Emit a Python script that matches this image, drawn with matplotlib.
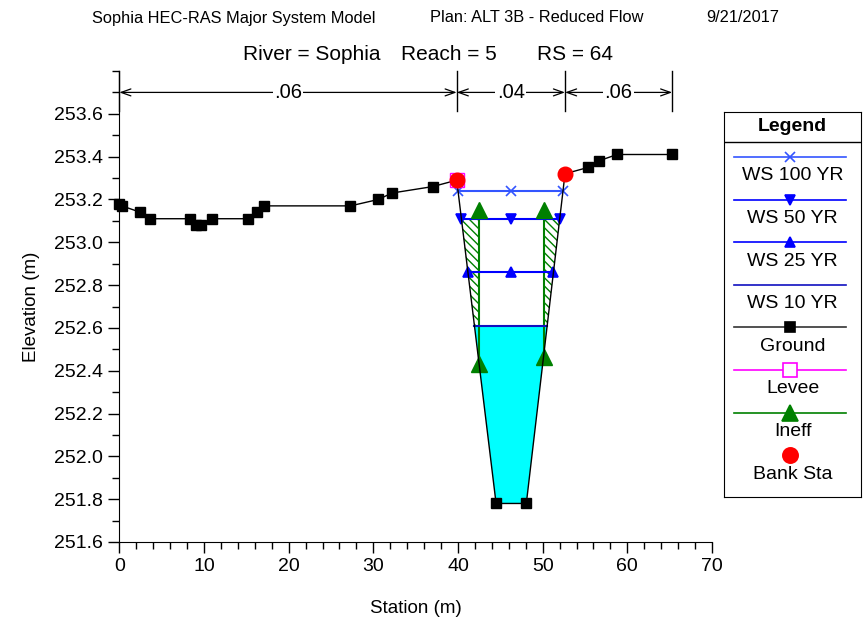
import numpy as np
import matplotlib
matplotlib.use("Agg")
import matplotlib.pyplot as plt

plt.rcParams['font.family'] = ['Liberation Sans', 'DejaVu Sans']

# ground geometry (station, elevation)
sta = [0, 0.3, 2.5, 3.6, 8.4, 9.0, 9.6, 11.0, 15.2, 16.3, 17.1, 27.3, 30.6,
       32.2, 37.0, 39.85, 44.5, 48.07, 52.64, 55.4, 56.6, 58.8, 65.3]
elev = [253.18, 253.17, 253.14, 253.11, 253.11, 253.08, 253.08, 253.11, 253.11,
        253.14, 253.17, 253.17, 253.20, 253.23, 253.26, 253.29, 251.78, 251.78,
        253.32, 253.35, 253.38, 253.41, 253.41]

bank_sta = [39.85, 52.64]
levee_sta = [39.85]

ws_names = ["WS 100 YR", "WS 50 YR", "WS 25 YR", "WS 10 YR"]
ws_elev = [253.24, 253.11, 252.86, 252.61]
ws_markers = ["x", "v", "^", None]

ineff_sta = [42.5, 50.1]
ineff_elev = 253.15

n_breaks = [0, 39.85, 52.64, 65.3]
n_vals = [".06", ".04", ".06"]

sta = np.array(sta)
elev = np.array(elev)
left_i = int(np.argmin(np.abs(sta - bank_sta[0])))
right_i = int(np.argmin(np.abs(sta - bank_sta[1])))
bot = left_i + 1


def crossing(z):
    # where a water level meets the channel banks
    xl = np.interp(z, elev[left_i:bot + 1][::-1], sta[left_i:bot + 1][::-1])
    xr = np.interp(z, elev[bot + 1:right_i + 1], sta[bot + 1:right_i + 1])
    return xl, xr


def ground_at(x):
    return np.interp(x, sta, elev)


fig = plt.figure(figsize=(8.63, 6.24), dpi=100)
ax = fig.add_axes([119.3 / 863, 1 - 542 / 624, (712 - 119.3) / 863, (542 - 71) / 624])

# ineffective areas (hatched between ground, ineff station and WS 50)
z_h = ws_elev[1]
xl, xr = crossing(z_h)
gl = ground_at(ineff_sta[0])
gr = ground_at(ineff_sta[1])
ax.fill([xl, ineff_sta[0], ineff_sta[0]], [z_h, z_h, gl], facecolor='white',
        edgecolor='green', hatch='\\\\\\\\', lw=0, zorder=2)
ax.fill([ineff_sta[1], xr, ineff_sta[1]], [z_h, z_h, gr], facecolor='white',
        edgecolor='green', hatch='\\\\\\\\', lw=0, zorder=2)

# water below WS 10
z10 = ws_elev[3]
xl10, xr10 = crossing(z10)
wx = np.concatenate([[xl10], sta[bot:bot + 2], [xr10]])
wz = np.concatenate([[z10], elev[bot:bot + 2], [z10]])
ax.fill(wx, wz, color='#00ffff', lw=0, zorder=3)

for st, g in zip(ineff_sta, [gl, gr]):
    ax.plot([st, st], [g, ineff_elev], color='green', lw=1.5, zorder=4)
    ax.plot([st], [ineff_elev], marker='^', color='green', ms=11, zorder=6)
    ax.plot([st], [g], marker='^', color='green', ms=11, zorder=6)

ws_colors = ['#3355ff', '#0000ff', '#0000ff', '#1010c0']
for z, m, c in zip(ws_elev, ws_markers, ws_colors):
    a, b = crossing(z)
    xs = [a, (a + b) / 2, b]
    ax.plot(xs, [z] * 3, color=c, lw=1.5, marker=m, ms=7, mew=1.2, zorder=5)

ax.plot(sta, elev, color='black', lw=1, marker='s', ms=7, zorder=7, clip_on=False)
ax.plot(levee_sta, ground_at(np.array(levee_sta)), ls='none', marker='s', ms=10,
        mfc='none', mec='magenta', mew=1, zorder=8)
ax.plot(bank_sta, ground_at(np.array(bank_sta)), ls='none', marker='o', ms=10.5,
        color='red', zorder=9)

# manning's n bar
y_n = 253.70
for xb in n_breaks:
    ax.plot([xb, xb], [253.80, 253.615], color='black', lw=1, clip_on=False, zorder=1)
for a, b, s in zip(n_breaks[:-1], n_breaks[1:], n_vals):
    ax.annotate('', xy=(a, y_n), xytext=(b, y_n),
                arrowprops=dict(arrowstyle='<->,head_length=0.7,head_width=0.25',
                                lw=0.9, color='black', shrinkA=0, shrinkB=0))
    ax.text((a + b) / 2, y_n, s, ha='center', va='center', fontsize=14.5,
            bbox=dict(facecolor='white', edgecolor='none', pad=1))

ax.set_xlim(0, 70)
ax.set_ylim(251.6, 253.8)
ax.set_xticks(np.arange(0, 71, 10))
ax.set_xticks(np.arange(0, 71, 2), minor=True)
ax.set_yticks(np.round(np.arange(251.6, 253.61, 0.2), 1))
ax.set_yticks(np.round(np.arange(251.6, 253.81, 0.1), 1), minor=True)
ax.yaxis.set_major_formatter(matplotlib.ticker.FormatStrFormatter('%.1f'))
ax.spines['top'].set_visible(False)
ax.spines['right'].set_visible(False)
ax.tick_params(which='major', length=8, labelsize=14, width=1)
ax.tick_params(which='minor', length=5, width=1)
ax.set_xlabel("Station (m)", fontsize=13.5, labelpad=18)
ax.set_ylabel("Elevation (m)", fontsize=13.5, labelpad=10)

fig.text(92 / 863, 1 - 18 / 624, "Sophia HEC-RAS Major System Model", fontsize=11.8, va='center')
fig.text(430 / 863, 1 - 18 / 624, "Plan: ALT 3B - Reduced Flow", fontsize=11.8, va='center')
fig.text(706 / 863, 1 - 18 / 624, "9/21/2017", fontsize=11.8, va='center')
fig.text(243 / 863, 1 - 55 / 624, "River = Sophia", fontsize=15, va='center')
fig.text(401 / 863, 1 - 55 / 624, "Reach = 5", fontsize=15, va='center')
fig.text(537 / 863, 1 - 55 / 624, "RS = 64", fontsize=15, va='center')

# legend box, HEC-RAS style (sample line with the label underneath)
lg = fig.add_axes([724 / 863, 1 - 497 / 624, 137 / 863, 385 / 624])
lg.set_xlim(724, 861)
lg.set_ylim(497, 112)
lg.set_xticks([])
lg.set_yticks([])
lg.text(792.5, 127, "Legend", ha='center', va='center', fontsize=14, weight='bold')
lg.plot([724, 861], [142, 142], color='black', lw=1)
entries = [
    ("WS 100 YR", ws_colors[0], 'x', dict(mfc=ws_colors[0], mec=ws_colors[0])),
    ("WS 50 YR", ws_colors[1], 'v', dict(mfc='blue', mec='blue')),
    ("WS 25 YR", ws_colors[2], '^', dict(mfc='blue', mec='blue')),
    ("WS 10 YR", ws_colors[3], None, {}),
    ("Ground", '#333333', 's', dict(mfc='black', mec='black')),
    ("Levee", 'magenta', 's', dict(mfc='white', mec='magenta', ms=10)),
    ("Ineff", 'green', '^', dict(mfc='green', mec='green', ms=11)),
    ("Bank Sta", None, 'o', dict(mfc='red', mec='red', ms=11)),
]
for i, (name, c, m, kw) in enumerate(entries):
    yl = 157 + i * 42.6
    if c is not None:
        lg.plot([734, 846], [yl, yl], color=c, lw=1.2)
    if m is not None:
        opts = dict(ms=7, mew=1.2)
        opts.update(kw)
        lg.plot([790], [yl], marker=m, ls='none', **opts)
    lg.text(792.5, yl + 19, name, ha='center', va='center', fontsize=14)

fig.savefig('out.png', dpi=100)
